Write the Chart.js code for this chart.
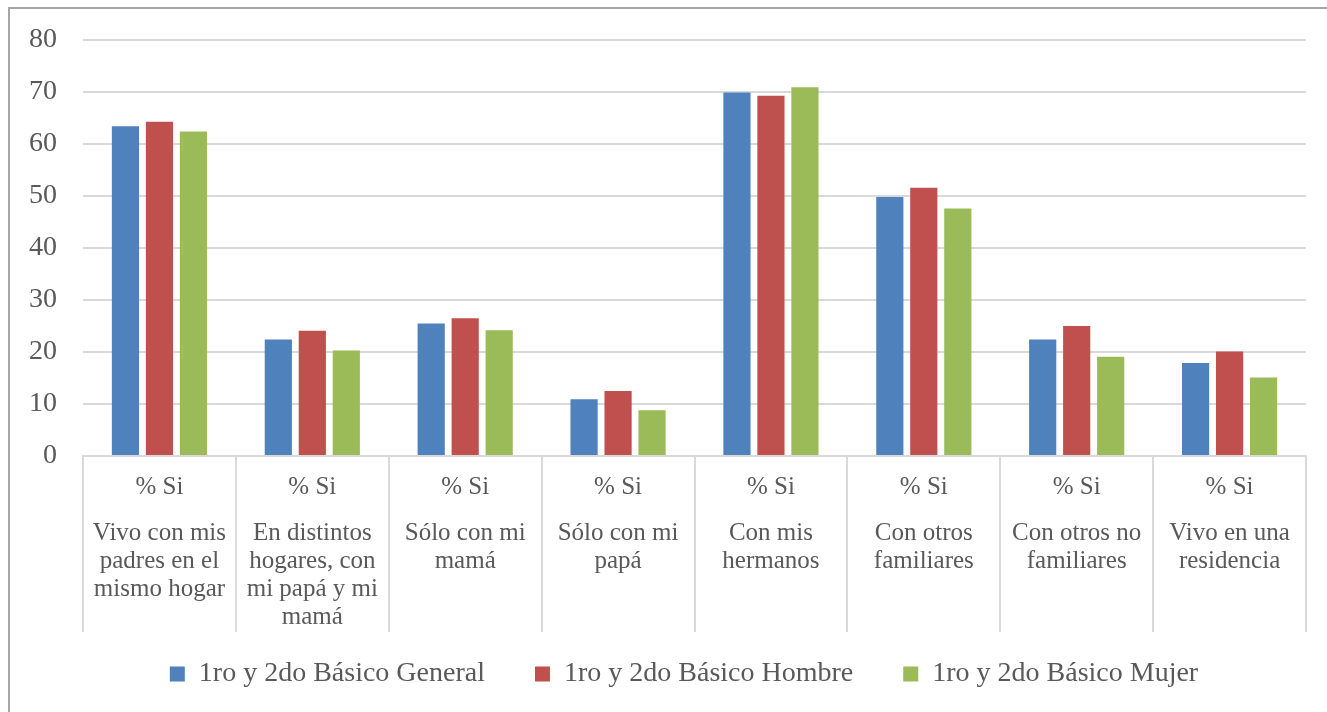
<!DOCTYPE html>
<html>
<head>
<meta charset="utf-8">
<script src="https://cdn.jsdelivr.net/npm/chart.js@4"></script>
<style>
  html, body { margin: 0; padding: 0; background: #fff; }
  #frame {
    position: absolute; left: 8px; top: 7px; width: 1400px; height: 800px;
    border-left: 2px solid #a6a6a6; border-top: 2px solid #a6a6a6;
  }
  #wrap { position: absolute; left: 0; top: 0; width: 1327px; height: 712px; }
</style>
</head>
<body>
<div id="frame"></div>
<div id="wrap"><canvas id="myChart"></canvas></div>
<script>
'use strict';

// categorias (cada una en varias lineas, como en el grafico original)
const categories = [
	['Vivo con mis', 'padres en el', 'mismo hogar'],
	['En distintos', 'hogares, con', 'mi papá y mi', 'mamá'],
	['Sólo con mi', 'mamá'],
	['Sólo con mi', 'papá'],
	['Con mis', 'hermanos'],
	['Con otros', 'familiares'],
	['Con otros no', 'familiares'],
	['Vivo en una', 'residencia']
];
const topLabel = '% Si';

const seriesNames = ['1ro y 2do Básico General', '1ro y 2do Básico Hombre', '1ro y 2do Básico Mujer'];
const general = [63.4, 22.4, 25.5, 10.9, 69.9, 49.8, 22.4, 17.9];
const hombre  = [64.3, 24.1, 26.5, 12.5, 69.3, 51.6, 25.0, 20.1];
const mujer   = [62.4, 20.3, 24.2, 8.8, 70.9, 47.6, 19.1, 15.1];

const yTicks = [0, 10, 20, 30, 40, 50, 60, 70, 80];

const textColor = '#595959';
const gridColor = '#d9d9d9';
const fontFamily = '"Liberation Serif", serif';

// lineas verticales entre categorias, bajo el eje x
const separators = {
	id: 'separators',
	afterDraw(chart) {
		const x = chart.scales.x;
		const n = categories.length;
		const step = x.width / n;
		const c = chart.ctx;
		c.save();
		c.strokeStyle = gridColor;
		c.lineWidth = 2;
		for (let i = 0; i <= n; i++) {
			const px = Math.round(x.left + i * step);
			c.beginPath();
			c.moveTo(px, chart.chartArea.bottom);
			c.lineTo(px, chart.scales.x2.bottom + 1);
			c.stroke();
		}
		c.restore();
	}
};

function fixAxis(h) {
	return scale => {
		scale.height = h;
		scale.paddingLeft = 0;
		scale.paddingRight = 0;
	};
}

let ctx = document.getElementById('myChart');

let myChart = new Chart(ctx, {
	type: 'bar',
	data: {
		labels: categories.map((c, i) => 'c' + i),
		datasets: [
			{ label: seriesNames[0], data: general, backgroundColor: '#4f81bd' },
			{ label: seriesNames[1], data: hombre, backgroundColor: '#c0504d' },
			{ label: seriesNames[2], data: mujer, backgroundColor: '#9bbb59' }
		]
	},
	options: {
		responsive: true,
		maintainAspectRatio: false,
		animation: false,
		datasets: {
			bar: { categoryPercentage: 0.667, barPercentage: 0.8 }
		},
		layout: { padding: { top: 40, left: 3, right: 21, bottom: 14 } },
		plugins: {
			tooltip: { enabled: false },
			legend: {
				position: 'bottom',
				fullSize: false,
				labels: {
					boxWidth: 15,
					boxHeight: 15,
					padding: 29,
					color: textColor,
					font: { family: fontFamily, size: 28 },
					generateLabels: chart => {
						const items = Chart.defaults.plugins.legend.labels.generateLabels(chart);
						items.forEach(it => { it.text = it.text + '   '; });
						return items;
					}
				}
			}
		},
		scales: {
			y: {
				min: 0,
				max: 80,
				afterBuildTicks: axis => { axis.ticks = yTicks.map(v => ({ value: v })); },
				afterFit: scale => { scale.paddingTop = 0; scale.paddingBottom = 0; },
				grid: { color: gridColor, lineWidth: 2, drawTicks: false },
				border: { display: false },
				ticks: {
					padding: 26,
					color: textColor,
					font: { family: fontFamily, size: 28 }
				}
			},
			x: {
				offset: true,
				afterFit: fixAxis(46),
				grid: { display: true, drawOnChartArea: false, drawTicks: false },
				border: { display: true, color: gridColor, width: 2 },
				ticks: {
					callback: () => topLabel,
					autoSkip: false,
					maxRotation: 0,
					padding: 17,
					color: textColor,
					font: { family: fontFamily, size: 25, lineHeight: '28px' }
				}
			},
			x2: {
				type: 'category',
				position: 'bottom',
				labels: categories,
				offset: true,
				afterFit: fixAxis(129),
				grid: { display: false, drawTicks: false },
				border: { display: false },
				ticks: {
					autoSkip: false,
					maxRotation: 0,
					padding: 17,
					color: textColor,
					font: { family: fontFamily, size: 25, lineHeight: '28px' }
				}
			}
		}
	},
	plugins: [separators]
});
</script>
</body>
</html>
